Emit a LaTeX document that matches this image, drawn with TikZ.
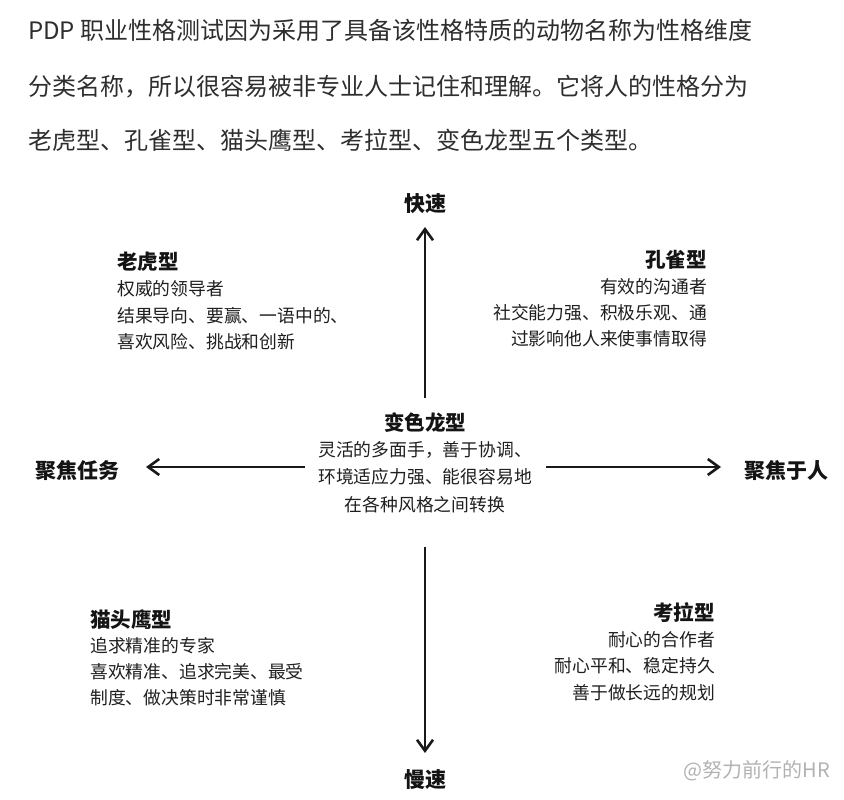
\documentclass[tikz,border=0pt]{standalone}
\usepackage{fontspec}
\setmainfont{Noto Sans CJK SC}
\usetikzlibrary{arrows.meta}
\begin{document}
\begin{tikzpicture}[x=1pt,y=-1pt,
  body/.style={inner sep=0pt, font=\fontsize{17.8}{20}\selectfont, text=black!88},
  ttl/.style={inner sep=0pt, font=\fontsize{20.5}{24}\selectfont\bfseries, text=black!92},
  axl/.style={inner sep=0pt, font=\fontsize{21}{24}\selectfont\bfseries, text=black!92},
  intro/.style={inner sep=0pt, anchor=west, font=\fontsize{24}{28}\selectfont, text=black!82},
  arr/.style={line width=2.6pt, black!90, -{Straight Barb[length=11pt,width=16pt,line width=2.6pt]}}]
\useasboundingbox[fill=white] (0,0) rectangle (844,800);

% intro text
\node[intro] (i1) at (28,30) {PDP 职业性格测试因为采用了具备该性格特质的动物名称为性格维度};
\node[intro] (i2) at (28,87) {分类名称，所以很容易被非专业人士记住和理解。它将人的性格分为};
\node[intro] (i3) at (28,140) {老虎型、孔雀型、猫头鹰型、考拉型、变色龙型五个类型。};

% axis labels
\node[axl] (fast) at (425,204) {快速};
\node[axl] (slow) at (425,780) {慢速};
\node[axl] (task) at (77,470) {聚焦任务};
\node[axl] (people) at (786,470) {聚焦于人};

% axis arrows
\coordinate (upS) at (425,398);
\coordinate (upE) at (425,227);
\coordinate (dnS) at (425,547);
\coordinate (dnE) at (425,753);
\coordinate (lfS) at (305,467);
\coordinate (lfE) at (146,467);
\coordinate (rtS) at (546,467);
\coordinate (rtE) at (721,467);
\draw[arr] (upS) -- (upE);
\draw[arr] (dnS) -- (dnE);
\draw[arr] (lfS) -- (lfE);
\draw[arr] (rtS) -- (rtE);

% tiger
\node[ttl, anchor=west] (t0) at (117,262) {老虎型};
\node[body, anchor=west] (t1) at (117,289) {权威的领导者};
\node[body, anchor=west] (t2) at (117,316) {结果导向、要赢、一语中的、};
\node[body, anchor=west] (t3) at (117,342) {喜欢风险、挑战和创新};

% peacock
\node[ttl, anchor=east] (p0) at (707,260) {孔雀型};
\node[body, anchor=east] (p1) at (707,287) {有效的沟通者};
\node[body, anchor=east] (p2) at (707,313) {社交能力强、积极乐观、通};
\node[body, anchor=east] (p3) at (707,339) {过影响他人来使事情取得};

% chameleon
\node[ttl] (c0) at (425,423) {变色龙型};
\node[body] (c1) at (425,450) {灵活的多面手，善于协调、};
\node[body] (c2) at (425,477) {环境适应力强、能很容易地};
\node[body] (c3) at (425,505) {在各种风格之间转换};

% owl
\node[ttl, anchor=west] (o0) at (90,620) {猫头鹰型};
\node[body, anchor=west] (o1) at (90,646) {追求精准的专家};
\node[body, anchor=west] (o2) at (90,672) {喜欢精准、追求完美、最受};
\node[body, anchor=west] (o3) at (90,698) {制度、做决策时非常谨慎};

% koala
\node[ttl, anchor=east] (k0) at (715,613) {考拉型};
\node[body, anchor=east] (k1) at (715,640) {耐心的合作者};
\node[body, anchor=east] (k2) at (715,666) {耐心平和、稳定持久};
\node[body, anchor=east] (k3) at (715,693) {善于做长远的规划};

% watermark
\node[inner sep=0pt, anchor=east, font=\fontsize{20}{22}\selectfont, text=black!30] (wm) at (830,771) {@努力前行的HR};
\end{tikzpicture}
\end{document}
